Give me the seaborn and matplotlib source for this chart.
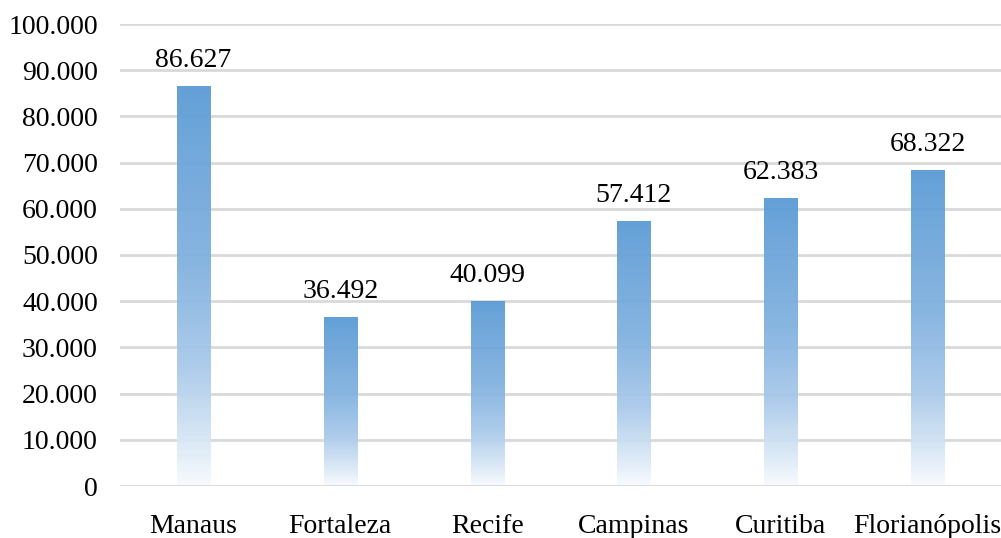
import numpy as np
import pandas as pd
import matplotlib
matplotlib.use("Agg")
import matplotlib.pyplot as plt
from matplotlib.colors import LinearSegmentedColormap
from matplotlib.ticker import FuncFormatter
import seaborn as sns

cidades = ["Manaus", "Fortaleza", "Recife", "Campinas", "Curitiba", "Florianópolis"]
valores = [86627, 36492, 40099, 57412, 62383, 68322]
y_ticks = [0, 10000, 20000, 30000, 40000, 50000, 60000, 70000, 80000, 90000, 100000]

sns.set_theme(style="white")
plt.rcParams["font.family"] = ["Liberation Serif", "DejaVu Serif"]

df = pd.DataFrame({"cidade": cidades, "valor": valores})

fig = plt.figure(figsize=(10.01, 5.38), dpi=100)
ax = fig.add_axes([120 / 1001, 1 - 486 / 538, 881 / 1001, 462 / 538])

sns.barplot(data=df, x="cidade", y="valor", ax=ax, width=0.225,
            color="#5B9BD5", saturation=1, zorder=2)

def pt(v):
    return f"{v:,.0f}".replace(",", ".")

ax.set_ylim(0, 100000)
ax.set_xlim(-0.5, len(cidades) - 0.5)
ax.set_yticks(y_ticks)
ax.yaxis.set_major_formatter(FuncFormatter(lambda v, p: pt(v)))
ax.grid(axis="y", color="#d9d9d9", linewidth=2, zorder=1)
ax.set_axisbelow(True)
for s in ["top", "right", "left", "bottom"]:
    ax.spines[s].set_visible(False)
ax.axhline(0, color="#d9d9d9", linewidth=2, zorder=4)

ax.tick_params(axis="y", length=0, pad=16, labelsize=20, labelcolor="black")
ax.tick_params(axis="x", length=0, pad=20, labelsize=20, labelcolor="black")
ax.set_xlabel("")
ax.set_ylabel("")

# vertical gradient fill for each bar: blue at top fading to white at the base
grad = LinearSegmentedColormap.from_list(
    "fade",
    [(0.0, "#f8fbfe"), (0.12, "#d6e6f5"), (0.3, "#a9c9ea"),
     (0.55, "#82b2e0"), (0.8, "#6ea6da"), (1.0, "#5B9BD5")])
g = np.linspace(0, 1, 256).reshape(-1, 1)
for patch in ax.patches:
    x0, y0 = patch.get_x(), patch.get_y()
    w, h = patch.get_width(), patch.get_height()
    im = ax.imshow(g, cmap=grad, origin="lower", aspect="auto", alpha=0.95,
                   extent=[x0, x0 + w, y0, y0 + h], zorder=2, interpolation="bilinear")
    im.set_clip_path(patch)
    patch.set_facecolor("none")
    patch.set_edgecolor("none")
    ax.text(x0 + w / 2, y0 + h + 2800, pt(h), ha="center", va="bottom",
            fontsize=20, color="black", zorder=5)

ax.set_xlim(-0.5, len(cidades) - 0.5)
ax.set_ylim(0, 100000)

fig.savefig("out.png", dpi=100)
